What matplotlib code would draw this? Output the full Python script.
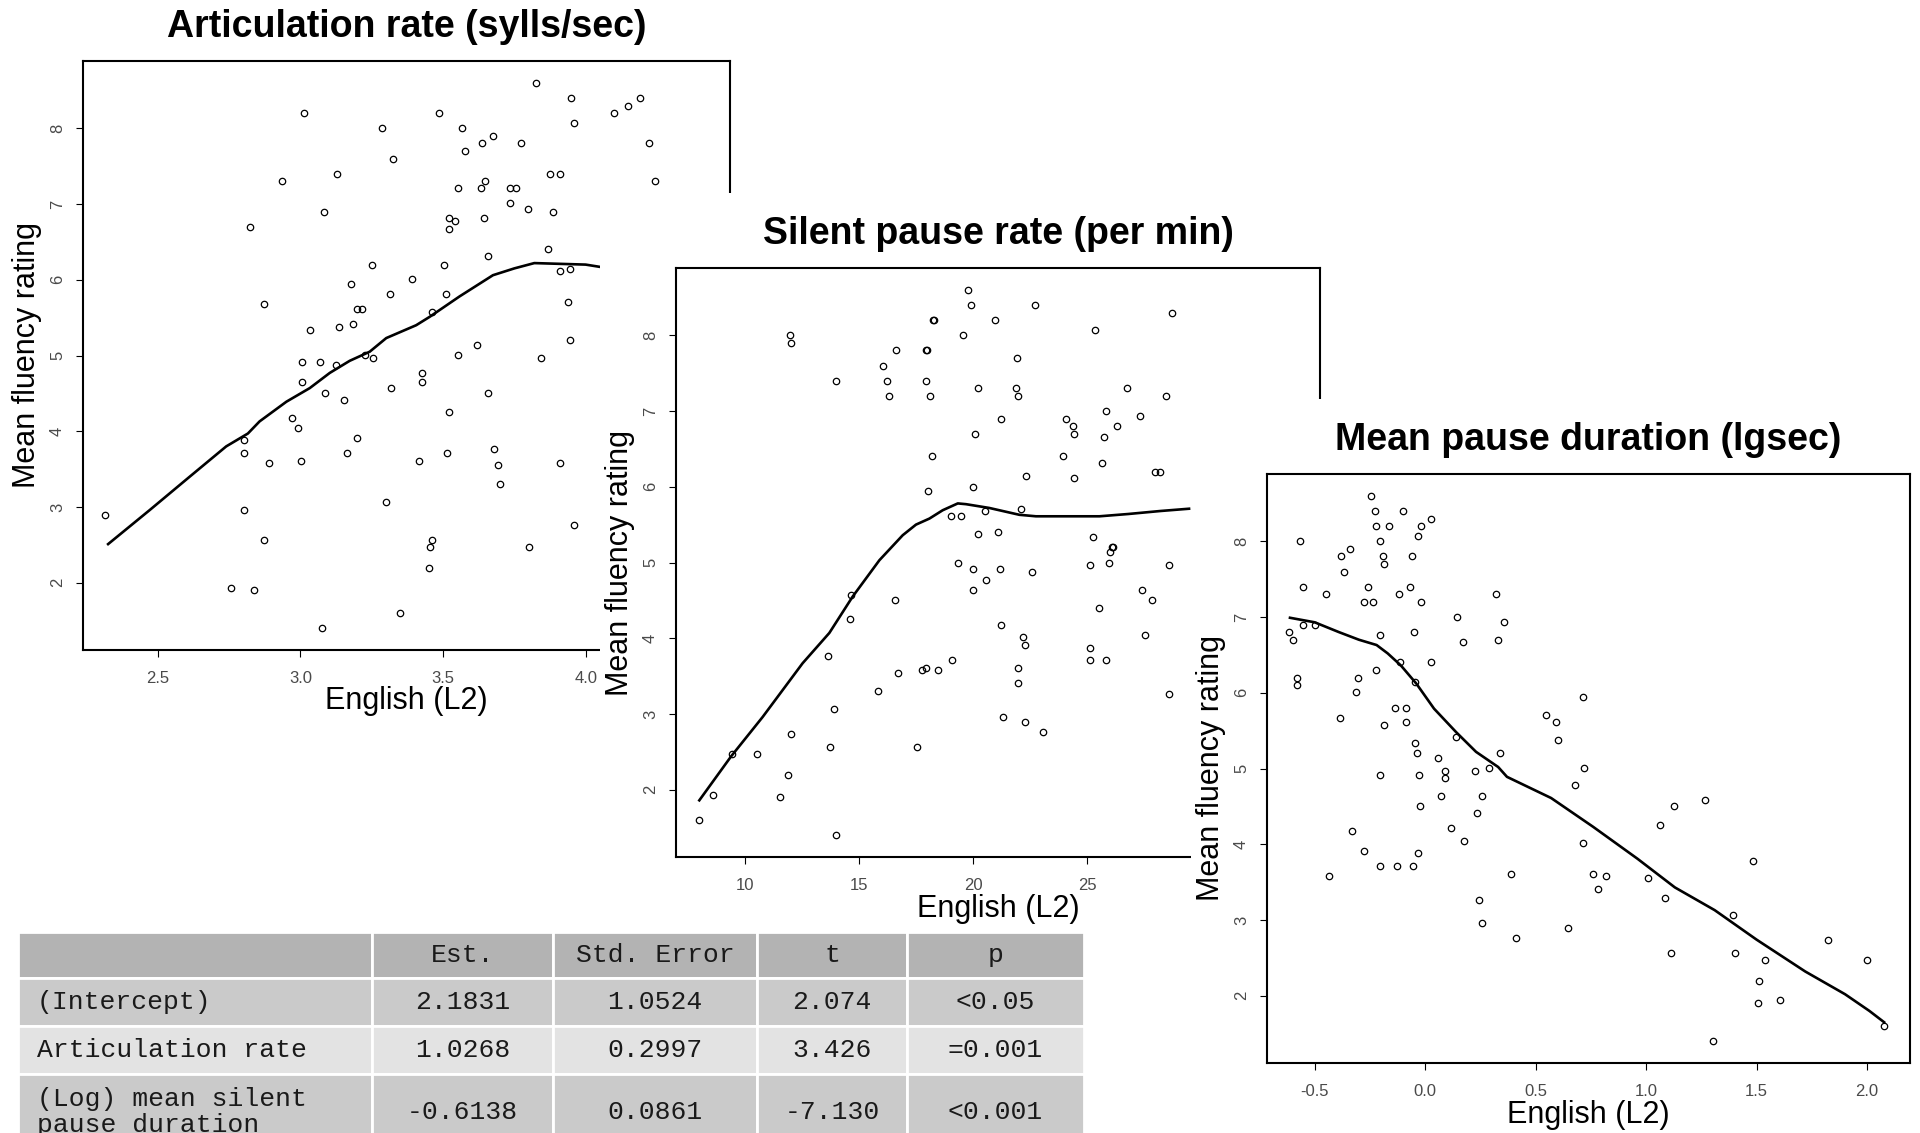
import matplotlib
matplotlib.use("Agg")
import matplotlib.pyplot as plt
from matplotlib.patches import Rectangle

plt.rcParams['font.family'] = ['Liberation Sans', 'DejaVu Sans']
plt.rcParams['axes.unicode_minus'] = False

# --- panel 1: articulation rate ---
ar_x = [2.315, 2.756, 2.836, 2.823, 2.873, 2.934, 3.011, 2.804, 2.804, 2.804,
        2.871, 2.889, 2.969, 2.992, 3.001, 3.006, 3.006, 3.032, 3.069, 3.082,
        3.085, 3.075, 3.124, 3.130, 3.134, 3.154, 3.162, 3.179, 3.183, 3.200,
        3.217, 3.200, 3.225, 3.250, 3.255, 3.287, 3.300, 3.313, 3.317, 3.325,
        3.348, 3.393, 3.415, 3.428, 3.428, 3.450, 3.455, 3.463, 3.463, 3.486,
        3.503, 3.509, 3.513, 3.521, 3.521, 3.521, 3.543, 3.553, 3.553, 3.566,
        3.578, 3.619, 3.633, 3.638, 3.643, 3.646, 3.658, 3.658, 3.674, 3.678,
        3.691, 3.701, 3.736, 3.736, 3.756, 3.772, 3.799, 3.802, 3.825, 3.844,
        3.869, 3.874, 3.884, 3.910, 3.910, 3.910, 3.937, 3.945, 3.945, 3.950,
        3.958, 3.958, 4.101, 4.148, 4.190, 4.223, 4.243]
ar_y = [2.90, 1.93, 1.90, 6.70, 5.68, 7.30, 8.20, 3.88, 3.71, 2.96,
        2.56, 3.58, 4.18, 4.04, 3.61, 4.91, 4.65, 5.34, 4.91, 6.90,
        4.51, 1.40, 4.88, 7.40, 5.37, 4.41, 3.71, 5.94, 5.41, 5.61,
        5.61, 3.91, 5.01, 6.20, 4.97, 8.00, 3.07, 5.81, 4.57, 7.60,
        1.60, 6.01, 3.61, 4.77, 4.65, 2.20, 2.47, 2.56, 5.57, 8.20,
        6.20, 5.81, 3.71, 4.25, 6.81, 6.67, 6.77, 7.21, 5.01, 8.00,
        7.70, 5.14, 7.21, 7.80, 6.81, 7.30, 6.31, 4.51, 7.90, 3.77,
        3.55, 3.30, 7.01, 7.21, 7.21, 7.80, 6.93, 2.47, 8.60, 4.97,
        6.41, 7.40, 6.90, 7.40, 6.11, 3.58, 5.71, 5.21, 6.14, 8.40,
        8.07, 2.76, 8.20, 8.30, 8.40, 7.80, 7.30]
ar_fit_x = [2.326, 2.472, 2.612, 2.740, 2.816, 2.857, 2.951, 3.033, 3.103, 3.173, 3.243,
            3.301, 3.406, 3.453, 3.558, 3.675, 3.75, 3.82, 3.91, 4.00, 4.05]
ar_fit_y = [2.51, 2.96, 3.40, 3.80, 3.97, 4.13, 4.39, 4.57, 4.77, 4.93, 5.05,
            5.23, 5.40, 5.51, 5.78, 6.06, 6.15, 6.22, 6.21, 6.20, 6.17]

# --- panel 2: silent pause rate ---
sp_x = [8.02, 8.62, 9.46, 10.54, 11.54, 11.88, 12.04, 11.98, 12.04, 14.01,
        14.01, 13.67, 13.91, 13.73, 14.61, 14.67, 15.85, 16.05, 16.25, 16.33,
        16.61, 16.59, 16.71, 17.53, 17.77, 17.93, 18.47, 19.07, 17.93, 17.99,
        17.93, 18.13, 18.23, 18.29, 18.19, 18.03, 19.03, 19.47, 19.35, 19.57,
        19.79, 19.91, 20.01, 20.07, 20.01, 20.01, 20.23, 20.23, 20.51, 20.55,
        20.98, 21.08, 21.16, 21.22, 21.22, 21.32, 21.86, 21.92, 21.96, 21.96,
        21.96, 22.08, 22.20, 22.26, 22.26, 22.32, 22.58, 22.70, 23.08, 23.92,
        24.08, 24.36, 24.40, 24.40, 25.12, 25.12, 25.12, 25.26, 25.34, 25.50,
        25.66, 25.72, 25.82, 25.82, 25.94, 25.98, 26.06, 26.14, 26.28, 26.72,
        27.32, 27.38, 27.54, 27.82, 27.94, 28.20, 28.42, 28.57, 28.57, 28.69]
sp_y = [1.60, 1.93, 2.47, 2.47, 1.90, 2.20, 2.73, 8.00, 7.90, 7.40,
        1.40, 3.77, 3.07, 2.56, 4.25, 4.57, 3.30, 7.60, 7.40, 7.20,
        7.80, 4.51, 3.54, 2.56, 3.58, 3.61, 3.58, 3.71, 7.80, 7.80,
        7.40, 7.20, 8.20, 8.20, 6.40, 5.94, 5.61, 5.61, 5.00, 8.00,
        8.60, 8.40, 6.00, 6.70, 4.91, 4.64, 7.30, 5.37, 5.68, 4.77,
        8.20, 5.40, 4.91, 6.90, 4.17, 2.96, 7.30, 7.70, 7.20, 3.61,
        3.41, 5.71, 4.01, 3.91, 2.90, 6.14, 4.88, 8.40, 2.76, 6.40,
        6.90, 6.80, 6.70, 6.11, 4.97, 3.87, 3.71, 5.34, 8.07, 4.40,
        6.31, 6.66, 7.00, 3.71, 5.00, 5.14, 5.20, 5.20, 6.80, 7.30,
        6.93, 4.64, 4.04, 4.51, 6.20, 6.20, 7.20, 4.97, 3.26, 8.30]
sp_fit_x = [8.02, 9.41, 10.79, 12.54, 13.71, 14.73, 15.90, 16.92, 17.50, 18.09, 18.67,
            19.33, 19.69, 20.71, 22.02, 22.75, 24.29, 25.53, 26.78, 28.20, 29.45]
sp_fit_y = [1.86, 2.44, 2.96, 3.67, 4.07, 4.55, 5.03, 5.36, 5.50, 5.58, 5.69,
            5.78, 5.77, 5.72, 5.63, 5.61, 5.61, 5.61, 5.64, 5.68, 5.71]

# --- panel 3: mean pause duration ---
mp_x = [-0.615, -0.598, -0.581, -0.581, -0.568, -0.555, -0.553, -0.500, -0.449, -0.434,
        -0.387, -0.381, -0.366, -0.342, -0.332, -0.315, -0.302, -0.279, -0.279, -0.257,
        -0.244, -0.238, -0.227, -0.221, -0.221, -0.204, -0.204, -0.204, -0.204, -0.193,
        -0.187, -0.187, -0.164, -0.136, -0.129, -0.119, -0.112, -0.102, -0.085, -0.085,
        -0.068, -0.061, -0.057, -0.051, -0.045, -0.045, -0.038, -0.034, -0.034, -0.030,
        -0.023, -0.017, -0.017, 0.028, 0.028, 0.056, 0.073, 0.090, 0.090, 0.118,
        0.141, 0.143, 0.171, 0.175, 0.226, 0.233, 0.245, 0.256, 0.256, 0.290,
        0.320, 0.330, 0.337, 0.358, 0.388, 0.409, 0.548, 0.590, 0.599, 0.644,
        0.676, 0.712, 0.712, 0.718, 0.759, 0.780, 0.820, 1.008, 1.063, 1.083,
        1.113, 1.127, 1.264, 1.304, 1.393, 1.404, 1.485, 1.512, 1.508, 1.536,
        1.604, 1.821, 2.000, 2.075]
mp_y = [6.80, 6.70, 6.20, 6.10, 8.00, 6.90, 7.40, 6.90, 7.30, 3.58,
        5.67, 7.80, 7.60, 7.90, 4.17, 6.01, 6.20, 7.20, 3.91, 7.40,
        8.60, 7.20, 8.40, 8.20, 6.30, 8.00, 6.76, 4.91, 3.71, 7.80,
        7.70, 5.57, 8.20, 5.80, 3.71, 7.30, 6.40, 8.40, 5.80, 5.61,
        7.40, 7.80, 3.71, 6.80, 6.14, 5.34, 5.21, 8.07, 3.88, 4.91,
        4.51, 8.20, 7.20, 8.30, 6.40, 5.14, 4.64, 4.97, 4.87, 4.21,
        5.41, 7.00, 6.67, 4.04, 4.97, 4.41, 3.26, 4.64, 2.96, 5.01,
        7.30, 6.70, 5.21, 6.94, 3.61, 2.76, 5.70, 5.61, 5.37, 2.90,
        4.78, 5.94, 4.01, 5.01, 3.61, 3.41, 3.58, 3.55, 4.25, 3.29,
        2.57, 4.51, 4.58, 1.40, 3.06, 2.57, 3.78, 2.20, 1.90, 2.47,
        1.94, 2.73, 2.47, 1.60]
mp_fit_x = [-0.612, -0.50, -0.39, -0.30, -0.22, -0.17, -0.11, -0.04, 0.04, 0.14, 0.23, 0.33,
            0.37, 0.57, 0.76, 0.96, 1.13, 1.31, 1.50, 1.72, 1.90, 2.01, 2.077]
mp_fit_y = [6.99, 6.93, 6.80, 6.70, 6.63, 6.52, 6.36, 6.12, 5.79, 5.48, 5.22, 5.02,
            4.89, 4.61, 4.23, 3.81, 3.43, 3.13, 2.74, 2.32, 2.02, 1.80, 1.65]

y_ticks = [2, 3, 4, 5, 6, 7, 8]

# --- regression table ---
col_labels = ["", "Est.", "Std. Error", "t", "p"]
row_names = ["(Intercept)", "Articulation rate", "(Log) mean silent\npause duration"]
est = ["2.1831", "1.0268", "-0.6138"]
std_err = ["1.0524", "0.2997", "0.0861"]
t_vals = ["2.074", "3.426", "-7.130"]
p_vals = ["<0.05", "=0.001", "<0.001"]

W, H = 1920, 1133
fig = plt.figure(figsize=(W / 100, H / 100), dpi=100)
fig.patch.set_facecolor("white")


def px_box(l, t, r, b):
    return [l / W, 1 - b / H, (r - l) / W, (b - t) / H]


def panel(box, z, title, xs, ys, fx, fy, xlim, xticks, xlabels):
    l, t, r, b = box
    w, h = r - l, b - t
    if z > 1:
        # each panel was pasted as an opaque picture over the previous one
        fig.add_artist(Rectangle(((l - 76) / W, 1 - (t - 75 + 740) / H), 790 / W, 740 / H,
                                 transform=fig.transFigure, facecolor="white",
                                 edgecolor="none", zorder=z - 1))
    ax = fig.add_axes(px_box(*box), zorder=z)
    ax.plot(xs, ys, ls="none", marker="o", ms=4.6, mfc="none", mec="black", mew=0.9)
    ax.plot(fx, fy, color="black", lw=1.9)
    ax.set_xlim(xlim)
    ax.set_ylim(1.112, 8.888)
    ax.set_xticks(xticks, xlabels)
    ax.set_yticks(y_ticks, [str(v) for v in y_ticks])
    ax.tick_params(direction="out", length=5, width=0.8, labelsize=12,
                   labelcolor="#4a4a4a", top=False, right=False)
    ax.tick_params(axis="x", pad=10)
    ax.tick_params(axis="y", pad=8)
    for lab in ax.get_yticklabels():
        lab.set_rotation(90)
        lab.set_va("center")
    for s in ax.spines.values():
        s.set_linewidth(1.5)
    ax.text(0.5, 1 + 34 / h, title, transform=ax.transAxes, ha="center", va="center",
            fontsize=27, fontweight="bold")
    ax.text(0.5, -51.5 / h, "English (L2)", transform=ax.transAxes, ha="center",
            va="center", fontsize=22)
    ax.text(-56 / w, 0.5, "Mean fluency rating", transform=ax.transAxes, ha="center",
            va="center", rotation=90, fontsize=22)
    return ax


panel((83, 61, 730, 650), 1, "Articulation rate (sylls/sec)", ar_x, ar_y, ar_fit_x, ar_fit_y,
      (2.238, 4.506), [2.5, 3.0, 3.5, 4.0], ["2.5", "3.0", "3.5", "4.0"])
panel((676, 268, 1320, 857), 3, "Silent pause rate (per min)", sp_x, sp_y, sp_fit_x, sp_fit_y,
      (7.0, 35.18), [10, 15, 20, 25], ["10", "15", "20", "25"])
panel((1267, 474, 1910, 1063), 5, "Mean pause duration (lgsec)", mp_x, mp_y, mp_fit_x, mp_fit_y,
      (-0.716, 2.194), [-0.5, 0.0, 0.5, 1.0, 1.5, 2.0],
      ["-0.5", "0.0", "0.5", "1.0", "1.5", "2.0"])

# table (runs off the bottom edge like the original slide)
tax = fig.add_axes(px_box(18, 932, 1084, 1150), zorder=7)
tax.axis("off")
cells = [[row_names[i], est[i], std_err[i], t_vals[i], p_vals[i]] for i in range(3)]
tbl = tax.table(cellText=cells, colLabels=col_labels, cellLoc="center",
                colWidths=[354, 181, 204, 150, 177], bbox=[0, 0, 1, 1])
tbl.auto_set_font_size(False)
tbl.set_fontsize(19)
row_h = [46, 48, 48, 76]
row_col = ["#b3b3b3", "#cacaca", "#e3e3e3", "#cacaca"]
for (r, c), cell in tbl.get_celld().items():
    cell.set_height(row_h[r])
    cell.set_facecolor(row_col[r])
    cell.set_edgecolor("white")
    cell.set_linewidth(2)
    txt = cell.get_text()
    txt.set_fontfamily(["Liberation Mono", "DejaVu Sans Mono"])
    txt.set_color("#1a1a1a")
    if c == 0 and r > 0:
        txt.set_ha("left")
        txt.set_linespacing(1.1)
        cell.PAD = 0.054

fig.savefig("out.png", dpi=100, facecolor="white")
